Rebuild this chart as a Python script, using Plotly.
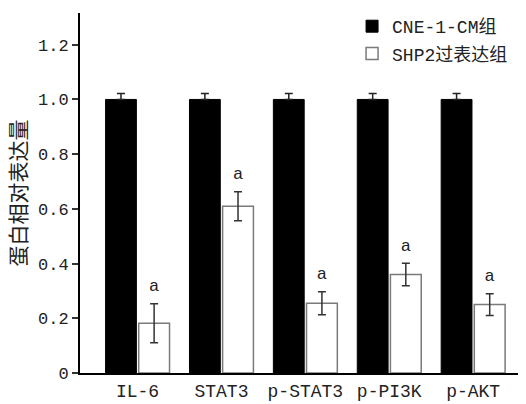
import plotly.graph_objects as go

categories = ["IL-6", "STAT3", "p-STAT3", "p-PI3K", "p-AKT"]
ctrl_name = "CNE-1-CM组"
shp_name = "SHP2过表达组"
ctrl_values = [1.0, 1.0, 1.0, 1.0, 1.0]
ctrl_errors = [0.022, 0.022, 0.022, 0.022, 0.022]
shp_values = [0.182, 0.61, 0.255, 0.36, 0.25]
shp_errors = [0.071, 0.053, 0.042, 0.041, 0.04]
sig_labels = ["a", "a", "a", "a", "a"]
y_tickvals = [0, 0.2, 0.4, 0.6, 0.8, 1.0, 1.2]
y_ticktext = ["0", "0.2", "0.4", "0.6", "0.8", "1.0", "1.2"]
y_title = "蛋白相对表达量"

FONT = "Liberation Mono, Noto Sans CJK SC"

fig = go.Figure()
fig.add_trace(go.Bar(
    name=ctrl_name, x=categories, y=ctrl_values, offsetgroup="1", legendgroup="g1",
    marker=dict(color="black", line=dict(color="black", width=1)),
    error_y=dict(type="data", array=ctrl_errors, arrayminus=[0]*len(ctrl_errors),
                 color="#222222", thickness=1.5, width=4),
))
fig.add_trace(go.Bar(
    name=shp_name, x=categories, y=shp_values, offsetgroup="2", legendgroup="g2",
    marker=dict(color="white", line=dict(color="#7a7a7a", width=1.5)),
    error_y=dict(type="data", array=shp_errors, color="#333333", thickness=1.5, width=4),
))
fig.add_trace(go.Scatter(
    x=categories, y=[v + e for v, e in zip(shp_values, shp_errors)],
    mode="markers+text", text=sig_labels, textposition="top center",
    marker=dict(size=12, color="rgba(0,0,0,0)"),
    textfont=dict(family=FONT, size=17, color="#222222"),
    showlegend=False, hoverinfo="skip", offsetgroup="2",
))

fig.update_layout(
    width=518, height=396,
    margin=dict(l=72, r=0, t=5, b=31, autoexpand=False),
    paper_bgcolor="white", plot_bgcolor="white",
    barmode="group", bargap=0.21, bargroupgap=0.07,
    scattermode="group", scattergap=0.21,
    font=dict(family=FONT, size=17, color="#222222"),
    showlegend=True,
    legend=dict(x=0.61, y=1.016, yref="container", xanchor="left", yanchor="top",
                bgcolor="rgba(0,0,0,0)", font=dict(size=18),
                itemwidth=30, tracegroupgap=1),
)
fig.update_xaxes(
    range=[-0.686, 4.63], showline=True, linecolor="black", linewidth=2,
    ticks="", ticklen=0, showgrid=False, zeroline=False,
    tickfont=dict(size=18),
)
fig.update_yaxes(
    range=[0, 1.316], showline=True, linecolor="black", linewidth=2,
    ticks="outside", ticklen=6, tickwidth=1.5, tickcolor="#333333",
    tickvals=y_tickvals, ticktext=y_ticktext,
    showgrid=False, zeroline=False, tickfont=dict(size=17),
    title=dict(text=y_title, font=dict(size=21), standoff=12),
)

fig.write_html("out.html")
